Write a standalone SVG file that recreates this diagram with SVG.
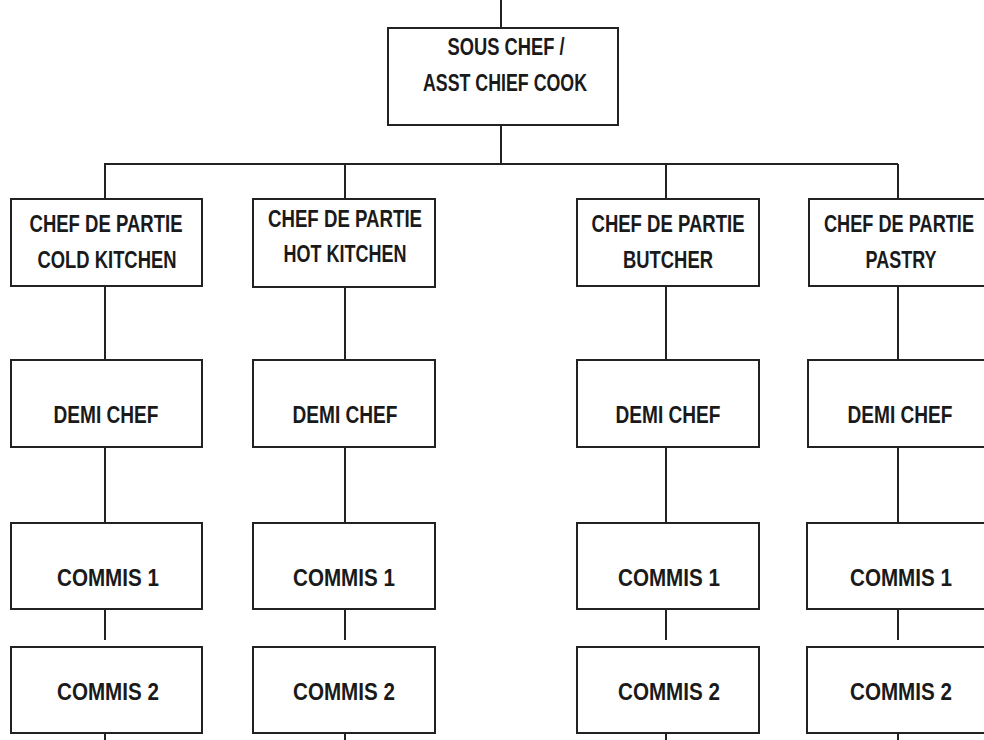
<svg xmlns="http://www.w3.org/2000/svg" width="984" height="740" viewBox="0 0 984 740">
<style>
.box{fill:#fff;stroke:#222;stroke-width:2}
.ln{stroke:#222;stroke-width:2;fill:none}
text{font-family:"Liberation Sans",Arial,sans-serif;font-size:23px;fill:#1a1a1a;text-anchor:middle;font-weight:bold}
</style>
<rect width="984" height="740" fill="#fff"/>
<g id="connectors">
<path class="ln" d="M501 0V28M501 125V164M104 164H898"/>
<path class="ln" d="M105 164V199M105 286V360M105 447V523M105 609V640M105 733V740"/>
<path class="ln" d="M345 164V199M345 287V360M345 447V523M345 609V640M345 733V740"/>
<path class="ln" d="M666 164V199M666 286V360M666 447V523M666 609V640M666 733V740"/>
<path class="ln" d="M898 164V199M898 286V360M898 447V523M898 609V640M898 733V740"/>
</g>
<g id="sous-chef">
<rect class="box" x="388" y="28" width="230" height="97"/>
<text x="506" y="55" textLength="117" lengthAdjust="spacingAndGlyphs">SOUS CHEF /</text>
<text x="505" y="91" textLength="164" lengthAdjust="spacingAndGlyphs">ASST CHIEF COOK</text>
</g>
<g id="cdp-cold">
<rect class="box" x="11" y="199" width="191" height="87"/>
<text x="106" y="232" textLength="153" lengthAdjust="spacingAndGlyphs">CHEF DE PARTIE</text>
<text x="107" y="268" textLength="139" lengthAdjust="spacingAndGlyphs">COLD KITCHEN</text>
</g>
<g id="cdp-hot">
<rect class="box" x="253" y="199" width="182" height="88"/>
<text x="345" y="227" textLength="154" lengthAdjust="spacingAndGlyphs">CHEF DE PARTIE</text>
<text x="345" y="262" textLength="123" lengthAdjust="spacingAndGlyphs">HOT KITCHEN</text>
</g>
<g id="cdp-butcher">
<rect class="box" x="577" y="199" width="182" height="87"/>
<text x="668" y="232" textLength="153" lengthAdjust="spacingAndGlyphs">CHEF DE PARTIE</text>
<text x="668" y="268" textLength="90" lengthAdjust="spacingAndGlyphs">BUTCHER</text>
</g>
<g id="cdp-pastry">
<rect class="box" x="809" y="199" width="180" height="87"/>
<text x="899" y="232" textLength="150" lengthAdjust="spacingAndGlyphs">CHEF DE PARTIE</text>
<text x="901" y="268" textLength="71" lengthAdjust="spacingAndGlyphs">PASTRY</text>
</g>
<g id="demi-1"><rect class="box" x="11" y="360" width="191" height="87"/><text x="106" y="423" textLength="105" lengthAdjust="spacingAndGlyphs">DEMI CHEF</text></g>
<g id="demi-2"><rect class="box" x="253" y="360" width="182" height="87"/><text x="345" y="423" textLength="105" lengthAdjust="spacingAndGlyphs">DEMI CHEF</text></g>
<g id="demi-3"><rect class="box" x="577" y="360" width="182" height="87"/><text x="668" y="423" textLength="105" lengthAdjust="spacingAndGlyphs">DEMI CHEF</text></g>
<g id="demi-4"><rect class="box" x="808" y="360" width="181" height="87"/><text x="900" y="423" textLength="105" lengthAdjust="spacingAndGlyphs">DEMI CHEF</text></g>
<g id="commis1-1"><rect class="box" x="11" y="523" width="191" height="86"/><text x="108" y="586" textLength="102" lengthAdjust="spacingAndGlyphs">COMMIS 1</text></g>
<g id="commis1-2"><rect class="box" x="253" y="523" width="182" height="86"/><text x="344" y="586" textLength="102" lengthAdjust="spacingAndGlyphs">COMMIS 1</text></g>
<g id="commis1-3"><rect class="box" x="577" y="523" width="182" height="86"/><text x="669" y="586" textLength="102" lengthAdjust="spacingAndGlyphs">COMMIS 1</text></g>
<g id="commis1-4"><rect class="box" x="807" y="523" width="182" height="86"/><text x="901" y="586" textLength="102" lengthAdjust="spacingAndGlyphs">COMMIS 1</text></g>
<g id="commis2-1"><rect class="box" x="11" y="647" width="191" height="86"/><text x="108" y="700" textLength="102" lengthAdjust="spacingAndGlyphs">COMMIS 2</text></g>
<g id="commis2-2"><rect class="box" x="253" y="647" width="182" height="86"/><text x="344" y="700" textLength="102" lengthAdjust="spacingAndGlyphs">COMMIS 2</text></g>
<g id="commis2-3"><rect class="box" x="577" y="647" width="182" height="86"/><text x="669" y="700" textLength="102" lengthAdjust="spacingAndGlyphs">COMMIS 2</text></g>
<g id="commis2-4"><rect class="box" x="807" y="647" width="182" height="86"/><text x="901" y="700" textLength="102" lengthAdjust="spacingAndGlyphs">COMMIS 2</text></g>
</svg>
